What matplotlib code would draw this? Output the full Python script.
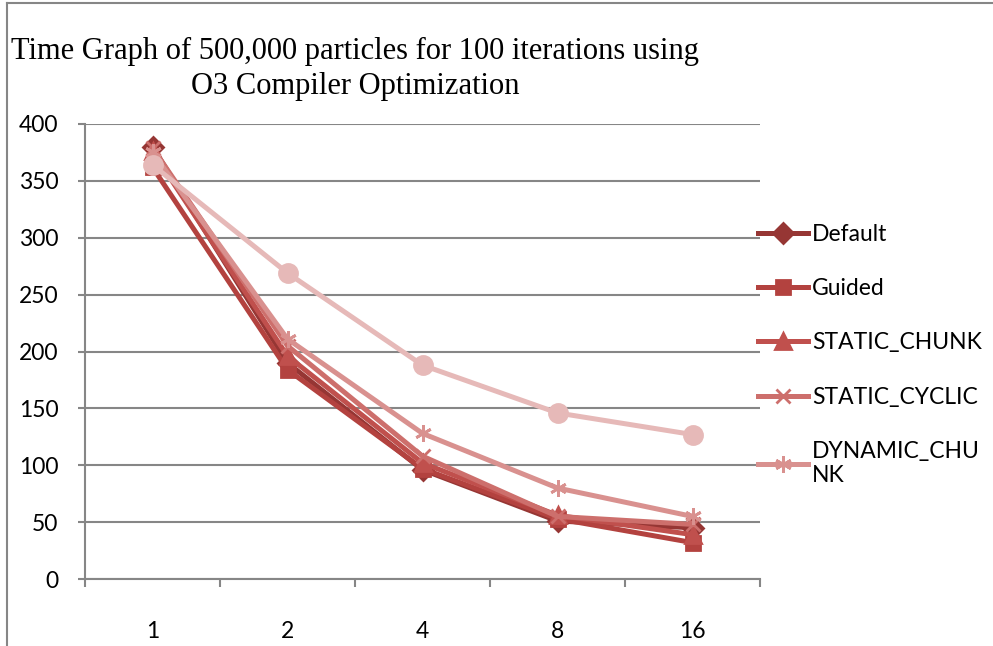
import matplotlib
matplotlib.use("Agg")
import matplotlib.pyplot as plt
from matplotlib.lines import Line2D
import numpy as np

# thread counts and run times (seconds) per scheduling policy
threads = ["1", "2", "4", "8", "16"]
default = [380, 190, 96, 51, 45]
guided = [362, 184, 97, 53, 32]
static_chunk = [376, 196, 102, 56, 39]
static_cyclic = [379, 205, 108, 55, 48]
dynamic_chunk = [375, 211, 128, 80, 55]
dynamic = [364, 269, 188, 146, 127]

series = [
    ("Default", default, "#963634", "D", 10),
    ("Guided", guided, "#B3423F", "s", 10),
    ("STATIC_CHUNK", static_chunk, "#C0504D", "^", 11),
    ("STATIC_CYCLIC", static_cyclic, "#CD6F6C", "x", 10),
    ("DYNAMIC_CHU\nNK", dynamic_chunk, "#D9918F", (6, 2, 0), 12),
    ("_DYNAMIC", dynamic, "#E6B9B8", "o", 13),
]

grey = "#868686"
plt.rcParams["font.family"] = ["Lato", "DejaVu Sans"]

fig = plt.figure(figsize=(9.93, 6.46), dpi=100)
ax = fig.add_axes([85 / 993, 67 / 646, 675 / 993, 455 / 646])

x = np.arange(1, len(threads) + 1)
for name, vals, col, mk, ms in series:
    ax.plot(x, vals, color=col, lw=3.6, marker=mk, ms=ms,
            mfc=col, mec=col, mew=2, label=name, solid_joinstyle="round")

ax.set_xlim(0.5, len(threads) + 0.5)
ax.set_ylim(0, 400)
ax.set_yticks(np.arange(0, 401, 50))
ax.yaxis.grid(True, color=grey, lw=1.5)
ax.set_axisbelow(True)

# category boundaries carry the tick marks, labels sit in the middle
ax.set_xticks(np.arange(0.5, len(threads) + 1, 1.0))
ax.set_xticklabels([])
ax.set_xticks(x, minor=True)
ax.set_xticklabels(threads, minor=True)
ax.tick_params(axis="x", which="major", length=6, width=1.5, color=grey)
ax.tick_params(axis="x", which="minor", length=0, pad=30, labelsize=16.5)
ax.tick_params(axis="y", length=5, width=1.5, color=grey, pad=14, labelsize=16.5)

for s in ["top", "right"]:
    ax.spines[s].set_visible(False)
for s in ["left", "bottom"]:
    ax.spines[s].set_color(grey)
    ax.spines[s].set_linewidth(1.5)

fig.text(355 / 993, 1 - 37 / 646,
         "Time Graph of 500,000 particles for 100 iterations using\nO3 Compiler Optimization",
         family=["Liberation Serif", "DejaVu Serif"], fontsize=22,
         ha="center", va="top", multialignment="center", linespacing=1.28)

fig.legend(loc="upper left", bbox_to_anchor=(758 / 993, 1 - 224 / 646),
           frameon=False, fontsize=16.5, handlelength=2.2, handletextpad=0.15,
           labelspacing=1.45, borderaxespad=0, borderpad=0)

# outer frame lines
fig.add_artist(Line2D([7 / 993, 7 / 993], [0, 1 - 3 / 646], color=grey, lw=1.5,
                      transform=fig.transFigure))
fig.add_artist(Line2D([7 / 993, 1], [1 - 3 / 646, 1 - 3 / 646], color=grey, lw=1.5,
                      transform=fig.transFigure))

fig.savefig("out.png", dpi=100)
